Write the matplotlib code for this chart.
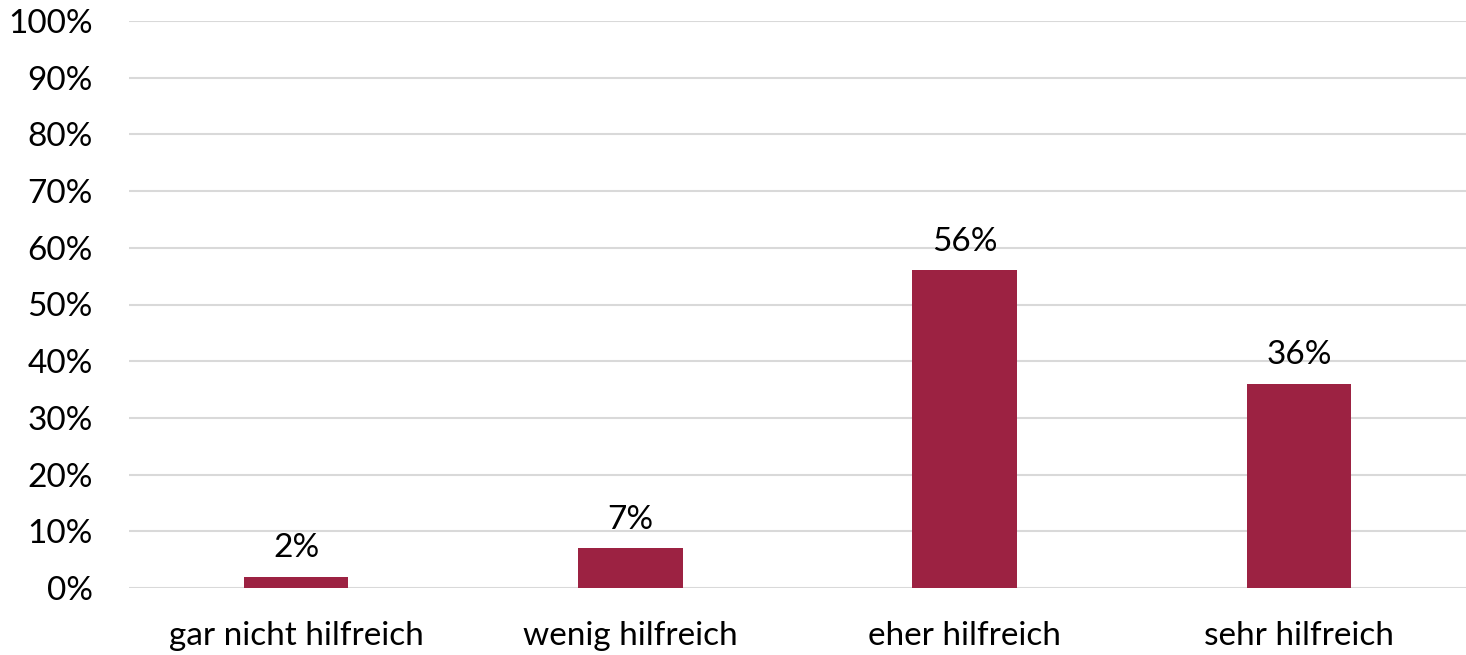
import matplotlib.pyplot as plt
from matplotlib.ticker import PercentFormatter

# Data
categories = ["gar nicht hilfreich", "wenig hilfreich", "eher hilfreich", "sehr hilfreich"]
shares = [2, 7, 56, 36]
labels = ["2%", "7%", "56%", "36%"]

plt.rcParams['font.family'] = ['Lato', 'DejaVu Sans']

fig = plt.figure(figsize=(14.66, 6.55), dpi=100)
ax = fig.add_axes([129 / 1466, 1 - 588 / 655, 1 - 129 / 1466, 567 / 655])

bars = ax.bar(categories, shares, width=0.313, color="#9C2242", zorder=3)
for b, lab in zip(bars, labels):
    ax.annotate(lab, (b.get_x() + b.get_width() / 2, b.get_height()),
                xytext=(0, 14), textcoords="offset points",
                ha="center", va="baseline", fontsize=24, color="black")

ax.set_xlim(-0.5, 3.5)
ax.set_ylim(0, 100)
ax.set_yticks(range(0, 101, 10))
ax.yaxis.set_major_formatter(PercentFormatter(decimals=0))
ax.grid(axis="y", color="#D9D9D9", linewidth=1.5, zorder=0)
for s in ["top", "right", "left", "bottom"]:
    ax.spines[s].set_visible(False)
ax.tick_params(axis="both", length=0, labelsize=24)
ax.tick_params(axis="y", pad=26)
ax.tick_params(axis="x", pad=24)
for t in ax.get_yticklabels():
    t.set_horizontalalignment("right")

plt.savefig("out.png", dpi=100)
